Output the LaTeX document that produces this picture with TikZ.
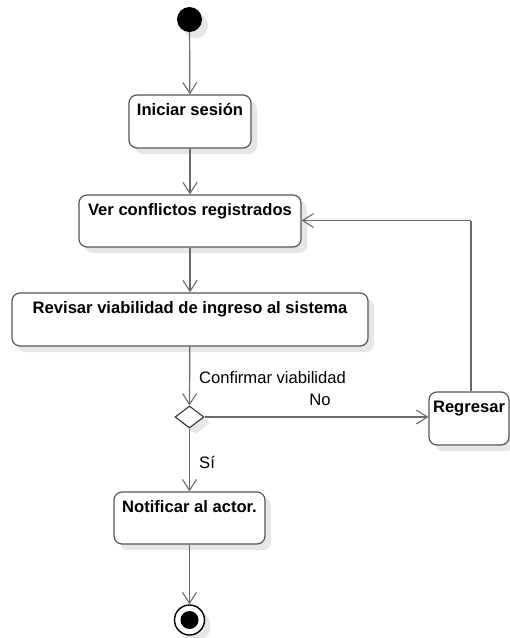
\documentclass[tikz,border=0pt]{standalone}
\usepackage{fontspec}
\setmainfont{Liberation Sans}
\usetikzlibrary{arrows.meta,shapes.geometric,shadows}
\definecolor{edge}{HTML}{555555}
\definecolor{wire}{HTML}{6A6A6A}
\definecolor{shade}{HTML}{E6E6E6}
\tikzset{
  x=1pt,y=-1pt,
  sh/.style={drop shadow={fill=shade,opacity=1,shadow xshift=6pt,shadow yshift=-6pt}},
  actbox/.style={draw=edge,line width=1.2pt,rounded corners=8pt,fill=white,sh,inner sep=0pt},
  boxtxt/.style={font=\fontsize{16.6}{18}\selectfont\bfseries,inner sep=0pt,anchor=north},
  lbl/.style={font=\fontsize{16.6}{18}\selectfont,inner sep=0pt},
  flow/.style={draw=wire,line width=1.2pt,-{Straight Barb[length=11pt,width=14pt,line width=1.1pt]}},
  wireline/.style={draw=wire,line width=1.2pt},
}
\begin{document}
\begin{tikzpicture}
\useasboundingbox[fill=white] (0,0) rectangle (510,638);
% start
\node[circle,fill=black,minimum size=25pt,inner sep=0pt,sh] (start) at (189.5,19.5) {};
% boxes
\node[actbox,minimum width=122pt,minimum height=53pt] (ini) at (190,121.5) {};
\node[boxtxt] (initxt) at ([yshift=-9pt]ini.north) {Iniciar sesión};
\node[actbox,minimum width=222pt,minimum height=52pt] (ver) at (190,221) {};
\node[boxtxt] (vertxt) at ([yshift=-9pt]ver.north) {Ver conflictos registrados};
\node[actbox,minimum width=356pt,minimum height=53pt] (rev) at (190,319.5) {};
\node[boxtxt] (revtxt) at ([yshift=-9pt]rev.north) {Revisar viabilidad de ingreso al sistema};
\node[diamond,draw=black!80,line width=1.1pt,fill=white,sh,minimum width=29pt,minimum height=22pt,inner sep=0pt,aspect=1.3] (dec) at (189.5,417) {};
\node[actbox,minimum width=80pt,minimum height=53pt] (reg) at (469,418.5) {};
\node[boxtxt] (regtxt) at ([yshift=-9pt]reg.north) {Regresar};
\node[actbox,minimum width=151pt,minimum height=52pt] (noti) at (189.5,518) {};
\node[boxtxt] (notitxt) at ([yshift=-9pt]noti.north) {Notificar al actor.};
% end
\node[circle,draw=black,line width=1.4pt,fill=white,minimum size=30pt,inner sep=0pt,sh] (fin) at (189.5,620) {};
\node[circle,fill=black,minimum size=18pt,inner sep=0pt] (fininner) at (fin.center) {};
% connectors
\draw[flow] (start) -- (ini);
\draw[flow] (ini) -- (ver);
\draw[flow] (ver) -- (rev);
\draw[flow] (rev) -- (dec.north);
\draw[flow] (dec.east) -- (reg.west |- dec.east);
\draw[flow] (dec.south) -- (noti.north);
\draw[flow] (noti) -- (fin);
\coordinate (corner) at (471,220.5);
\draw[wireline] (reg.north -| corner) -- (corner);
\draw[flow] (corner) -- (ver.east |- corner);
% labels
\node[lbl,anchor=west] (conf) at (199,378) {Confirmar viabilidad};
\node[lbl] (no) at (320,400) {No};
\node[lbl,anchor=west] (si) at (199,462) {Sí};
\end{tikzpicture}
\end{document}
